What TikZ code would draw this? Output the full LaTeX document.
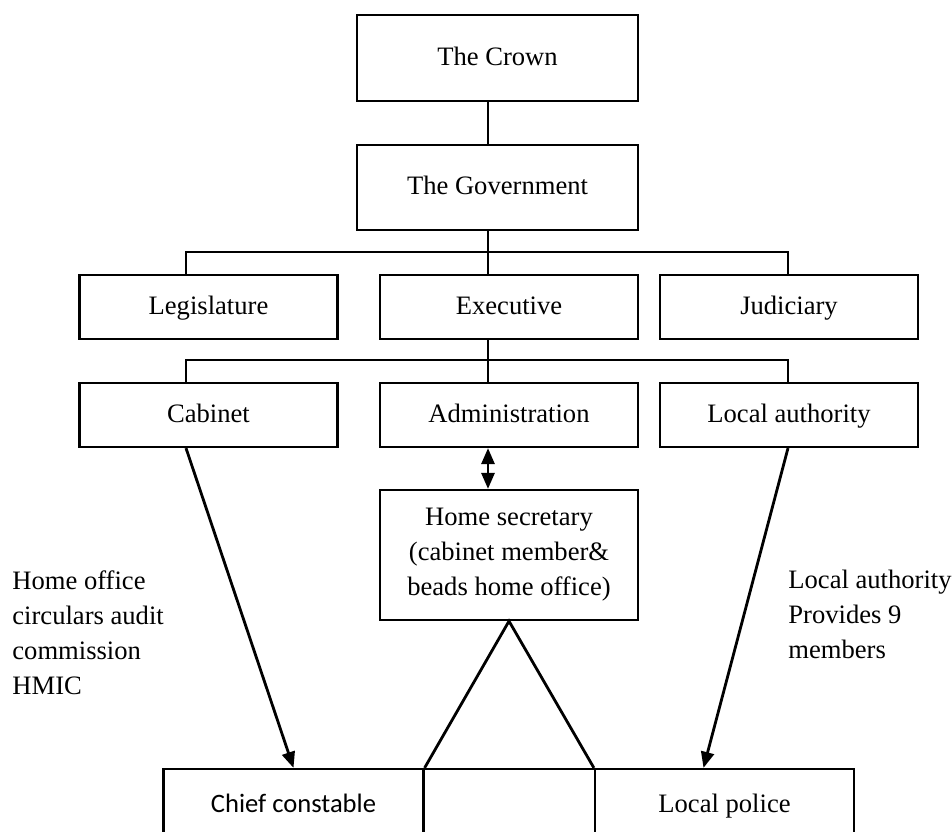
\documentclass[tikz,border=0pt]{standalone}
\usepackage{fontspec}
\setmainfont{Liberation Serif}
\newfontfamily\calibri{Carlito}
\usetikzlibrary{arrows.meta, positioning, calc}

\begin{document}
\begin{tikzpicture}[x=0.5pt, y=-0.5pt, font=\fontsize{13.3}{17.5}\selectfont,
    box/.style={draw, line width=1.1pt, align=center, inner sep=2pt},
    one/.style={box, text height=2ex, text depth=0.4ex},
    wide/.style={one, minimum width=129pt, minimum height=32pt},
    note/.style={align=left, anchor=west, inner sep=0pt},
    bus/.style={line width=1.4pt},
    thin/.style={line width=0.6pt},
    arr/.style={line width=1.4pt, -{Triangle[length=8pt, width=6.5pt]}}]
\useasboundingbox (0,0) rectangle (952,831);
\clip (0,0) rectangle (952,831);

\coordinate (mid) at (488,252);
\coordinate (lb) at (186,252);
\coordinate (rb) at (788,252);
\coordinate (lb2) at (186,360);
\coordinate (rb2) at (788,360);

\node[one, minimum width=140.5pt, minimum height=43pt] (crown) at (497.5,58) {The Crown};
\node[one, minimum width=140.5pt, minimum height=42.5pt] (gov) at (497.5,187.5) {The Government};

\node[wide] (legis) at (208.5,307) {Legislature};
\node[wide] (exec) at (509,307) {Executive};
\node[wide] (judic) at (789,307) {Judiciary};

\node[wide] (cabinet) at (208.5,415) {Cabinet};
\node[wide] (admin) at (509,415) {Administration};
\node[wide] (locauth) at (789,415) {Local authority};

\node[box, minimum width=129pt, minimum height=65pt] (hsec) at (509,555)
    {Home secretary\\(cabinet member\&\\beads home office)};

\node[one, minimum width=130pt, minimum height=36pt] (chief) at (293.5,805) {\calibri Chief constable};
\node[one, minimum width=86pt, minimum height=36pt] (gap) at (509,805) {};
\node[one, minimum width=129.5pt, minimum height=36pt] (police) at (724.5,805) {Local police};

\node[note] (hoc) at (12,632.5) {Home office\\circulars audit\\commission\\HMIC};
\node[note] (lap) at (788,614.5) {Local authority\\Provides 9\\members};

\draw[bus] (mid |- crown.south) -- (mid |- gov.north);
\draw[thin] (mid |- gov.south) -- (mid) -- (mid |- exec.north);
\draw[bus] (lb |- legis.north) -- (lb) -- (rb) -- (rb |- judic.north);
\draw[bus] (mid |- exec.south) -- (mid |- admin.north);
\draw[bus] (lb2 |- cabinet.north) -- (lb2) -- (rb2) -- (rb2 |- locauth.north);

\draw[arr, {Triangle[length=8pt, width=6.5pt]}-{Triangle[length=8pt, width=6.5pt]}]
    (mid |- admin.south) -- (mid |- hsec.north);
\draw[bus] (chief.north east) -- (hsec.south) -- (police.north west);

\draw[arr] (lb |- cabinet.south) -- (chief.north);
\draw[arr] (rb |- locauth.south) -- ($(police.north)+(-21,0)$);
\end{tikzpicture}
\end{document}
